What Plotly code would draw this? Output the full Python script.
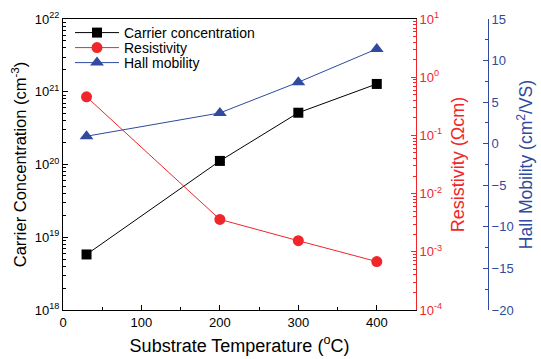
import plotly.graph_objects as go

temps = [30, 200, 300, 400]
carrier = [5.8e18, 1.12e20, 5.15e20, 1.28e21]
resistivity = [0.46, 3.6e-3, 1.55e-3, 6.8e-4]
hall = [0.9, 3.7, 7.4, 11.4]

carrier_exps = [18, 19, 20, 21, 22]
res_exps = [-4, -3, -2, -1, 0, 1]

RED = "#f0262a"
BLUE = "#2f4a9e"
FONT = "Liberation Sans, Arial, sans-serif"

W, H = 541, 359
L, R, T, B = 63, 40, 19, 49
pw = W - L - R
ph = H - T - B
xend = (416 - L) / pw
bluepos = (488 - L) / pw


def pow_labels(exps):
    return [f"10<sup>{e}</sup>" for e in exps]


def minor_log(exps):
    out = []
    for e in exps[:-1]:
        for m in range(2, 10):
            out.append(float(m) * 10.0 ** e)
    return out


fig = go.Figure()
fig.add_trace(go.Scatter(x=temps, y=carrier, name="Carrier concentration", mode="lines+markers",
                         line=dict(color="black", width=1), legend="legend",
                         marker=dict(symbol="square", size=10, color="black"), yaxis="y"))
fig.add_trace(go.Scatter(x=temps, y=resistivity, name="Resistivity", mode="lines+markers",
                         line=dict(color=RED, width=1), legend="legend2",
                         marker=dict(symbol="circle", size=11, color=RED), yaxis="y2"))
fig.add_trace(go.Scatter(x=temps, y=hall, name="Hall mobility", mode="lines+markers",
                         line=dict(color=BLUE, width=1), legend="legend3",
                         marker=dict(symbol="triangle-up", size=12, color=BLUE), yaxis="y3"))

leg_x = (70 - L) / pw


def leg(ypix):
    return dict(x=leg_x, y=(H - B - ypix) / ph, xanchor="left", yanchor="middle",
                bgcolor="rgba(0,0,0,0)", font=dict(size=14), borderwidth=0, itemwidth=44)


fig.update_layout(
    width=W, height=H,
    margin=dict(l=L, r=R, t=T, b=B, autoexpand=False),
    paper_bgcolor="white", plot_bgcolor="white",
    font=dict(family=FONT, size=13, color="black"),
    showlegend=True,
    legend=leg(33), legend2=leg(48), legend3=leg(63),
    xaxis=dict(domain=[0, xend], range=[0, 450], dtick=100, showgrid=False, zeroline=False,
               showline=True, linecolor="black", linewidth=1, mirror=True, automargin=False,
               ticks="inside", ticklen=5, tickcolor="black",
               minor=dict(ticks="inside", ticklen=3, dtick=50, showgrid=False),
               title=dict(text="Substrate Temperature (<sup>o</sup>C)", font=dict(size=18), standoff=10),
               tickfont=dict(size=13)),
    yaxis=dict(type="log", range=[18, 22], tickvals=[10.0 ** e for e in carrier_exps],
               ticktext=pow_labels(carrier_exps), showgrid=False, automargin=False,
               zeroline=False, showline=True, linecolor="black", linewidth=1,
               ticks="inside", ticklen=5, tickcolor="black",
               minor=dict(ticks="inside", ticklen=3, tickvals=minor_log(carrier_exps), showgrid=False),
               title=dict(text="Carrier Concentration (cm<sup>-3</sup>)", font=dict(size=16.5), standoff=4),
               tickfont=dict(size=13)),
    yaxis2=dict(type="log", range=[-4, 1], tickvals=[10.0 ** e for e in res_exps],
                ticktext=pow_labels(res_exps), showgrid=False, automargin=False,
                overlaying="y", side="right", anchor="x", zeroline=False,
                showline=True, linecolor=RED, linewidth=1,
                ticks="inside", ticklen=5, tickcolor=RED,
                minor=dict(ticks="inside", ticklen=3, tickvals=minor_log(res_exps), showgrid=False),
                tickfont=dict(color=RED, size=13),
                title=dict(text="Resistivity (\u03a9cm)", font=dict(color=RED, size=18), standoff=10)),
    yaxis3=dict(range=[-20, 15], dtick=5, showgrid=False, overlaying="y", side="right",
                anchor="free", position=bluepos, zeroline=False, automargin=False,
                showline=True, linecolor=BLUE, linewidth=1,
                ticks="inside", ticklen=5, tickcolor=BLUE,
                minor=dict(ticks="inside", ticklen=3, dtick=2.5, showgrid=False),
                tickfont=dict(color=BLUE, size=13),
                title=dict(text="Hall Mobility (cm<sup>2</sup>/VS)", font=dict(color=BLUE, size=17.5), standoff=4)),
)

fig.write_html("out.html")
